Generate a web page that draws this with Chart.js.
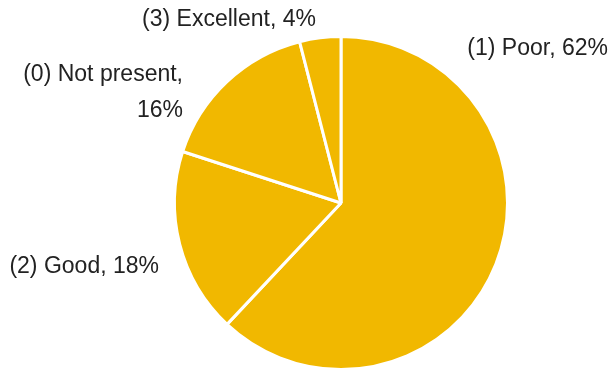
<!DOCTYPE html>
<html>
<head>
<meta charset="utf-8">
<script src="https://cdn.jsdelivr.net/npm/chart.js@4"></script>
<style>
  html, body { margin: 0; padding: 0; background: #ffffff; }
  #wrap { width: 614px; height: 371px; position: relative; }
</style>
</head>
<body>
<div id="wrap"><canvas id="c" width="614" height="371"></canvas></div>
<script>
// Quality rating of the feature, share of cases (%)
const categories = ['(1) Poor', '(2) Good', '(0) Not present', '(3) Excellent'];
const shares = [62, 18, 16, 4];

const sliceColor = '#F1B800';
const textColor = '#222222';
const labelFont = '23px "Liberation Sans", Arial, sans-serif';

// Label placement around the pie, relative to its centre (px)
const labelPlacement = [
  { dx: 267, dy: -154, align: 'right', split: false },
  { dx: -182, dy: 64, align: 'right', split: false },
  { dx: -158, dy: -128, align: 'right', split: true },
  { dx: -112, dy: -183, align: 'center', split: false }
];

const outsideLabels = {
  id: 'outsideLabels',
  afterDatasetsDraw(chart) {
    const ctx = chart.ctx;
    const arcs = chart.getDatasetMeta(0).data;
    if (!arcs.length) return;
    const cx = arcs[0].x, cy = arcs[0].y;
    ctx.save();
    ctx.font = labelFont;
    ctx.fillStyle = textColor;
    ctx.textBaseline = 'middle';
    chart.data.labels.forEach((name, i) => {
      const p = labelPlacement[i];
      const value = chart.data.datasets[0].data[i];
      ctx.textAlign = p.align;
      const x = cx + p.dx, y = cy + p.dy;
      if (p.split) {
        ctx.fillText(name + ',', x, y);
        ctx.fillText(value + '%', x, y + 36);
      } else {
        ctx.fillText(name + ', ' + value + '%', x, y);
      }
    });
    ctx.restore();
  }
};

new Chart(document.getElementById('c'), {
  type: 'pie',
  data: {
    labels: categories,
    datasets: [{
      data: shares,
      backgroundColor: sliceColor,
      borderColor: '#ffffff',
      borderWidth: 3,
      hoverOffset: 0
    }]
  },
  options: {
    responsive: false,
    animation: false,
    events: [],
    layout: { padding: { top: 35, bottom: 0, left: 170, right: 102 } },
    plugins: {
      legend: { display: false },
      tooltip: { enabled: false },
      title: { display: false }
    }
  },
  plugins: [outsideLabels]
});
</script>
</body>
</html>
